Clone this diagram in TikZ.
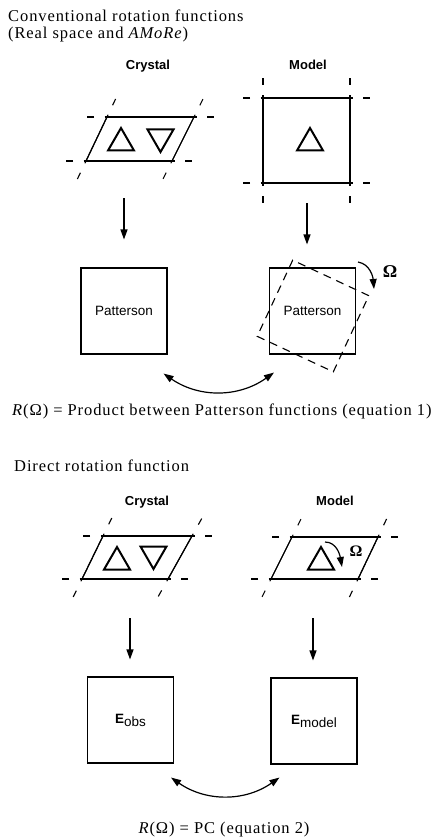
\documentclass[tikz,border=0pt]{standalone}
\usepackage{fontspec}
\setmainfont{Liberation Serif}
\setsansfont{Liberation Sans}
\newfontfamily\spacedfont[LetterSpace=5.5]{Liberation Serif}
\usetikzlibrary{positioning, arrows.meta, calc, shapes.geometric}

\begin{document}
\begin{tikzpicture}[
  x=1pt, y=1pt,
  txt/.style={anchor=base west, inner sep=0pt, font=\spacedfont\fontsize{16.5}{16.5}\selectfont},
  head/.style={anchor=base, inner sep=0pt, font=\sffamily\bfseries\fontsize{13}{13}\selectfont},
  box/.style={rectangle, draw, line width=1.1pt, minimum width=86pt, minimum height=86pt,
              inner sep=0pt, font=\sffamily\fontsize{13.5}{14}\selectfont},
  rotbox/.style={rectangle, draw, line width=1.1pt, dash pattern=on 8pt off 6pt,
                 minimum width=84pt, minimum height=84pt, inner sep=0pt, rotate=-25},
  cell/.style={line width=1.1pt},
  tri/.style={regular polygon, regular polygon sides=3, draw, line width=2pt,
              minimum size=30pt, inner sep=0pt},
  fwd/.style={-{Triangle[length=10pt,width=7pt]}, line width=1.2pt},
  both/.style={{Triangle[length=10pt,width=7pt]}-{Triangle[length=10pt,width=7pt]}, line width=1.2pt},
  omega/.style={inner sep=0pt, font=\bfseries\fontsize{18}{18}\selectfont},
]
\useasboundingbox (0,0) rectangle (442,-837);

% headings
\node[txt] (title1) at (8,-22) {Conventional rotation functions};
\node[txt] (title2) at (8,-39) {(Real space and \textit{AMoRe})};
\node[txt] (eq1) at (12,-415) {\textit{R}(Ω) = Product between Patterson functions (equation 1)};
\node[txt] (title3) at (14,-471) {Direct rotation function};
\node[txt, anchor=base] (eq2) at (224,-833) {\textit{R}(Ω) = PC (equation 2)};

\node[head] (crysA) at (148,-70) {Crystal};
\node[head] (modA) at (308,-70) {Model};
\node[head] (crysB) at (147,-505) {Crystal};
\node[head] (modB) at (335,-505) {Model};

% unit cells, corners a b c d counter-clockwise from lower left
\coordinate (tc-a) at (86,-161);  \coordinate (tc-b) at (172,-161);
\coordinate (tc-c) at (194,-117); \coordinate (tc-d) at (107,-117);
\coordinate (tm-a) at (263,-183); \coordinate (tm-b) at (350,-183);
\coordinate (tm-c) at (350,-98);  \coordinate (tm-d) at (263,-98);
\coordinate (bc-a) at (82,-579);  \coordinate (bc-b) at (168,-579);
\coordinate (bc-c) at (192,-536); \coordinate (bc-d) at (103,-536);
\coordinate (bm-a) at (271,-579); \coordinate (bm-b) at (358,-579);
\coordinate (bm-c) at (378,-537); \coordinate (bm-d) at (292,-537);

\foreach \u in {tc, tm, bc, bm}
  \foreach \p/\q in {a/b, b/a, b/c, c/b, c/d, d/c, d/a, a/d} {
    \draw[cell] ($(\u-\p)!-2.5pt!(\u-\q)$) -- (\u-\q);
    \draw[cell] ($(\u-\p)!-13pt!(\u-\q)$) -- ($(\u-\p)!-20pt!(\u-\q)$);
  }

% molecules
\node[tri] (tc-up) at (121,-143) {};
\node[tri, shape border rotate=180] (tc-dn) at (160.5,-137) {};
\node[tri] (tm-up) at (310,-143) {};
\node[tri] (bc-up) at (117,-562) {};
\node[tri, shape border rotate=180] (bc-dn) at (153.5,-554) {};
\node[tri] (bm-up) at (321,-562) {};

% Patterson maps
\node[box] (patC) at (124,-311) {Patterson};
\node[box] (patM) at (312.5,-311) {Patterson};
\node[rotbox] (patR) at (313,-316) {};

\coordinate (tc-out) at (124,-198);
\coordinate (tm-out) at (307,-203);
\draw[fwd, shorten >=28pt] (tc-out) -- (tc-out |- patC.north);
\draw[fwd, shorten >=23pt] (tm-out) -- (tm-out |- patM.north);

\coordinate (spinA) at (358,-262);
\coordinate (spinA-end) at (374,-289);
\draw[fwd] (spinA) to[out=-10,in=95] (spinA-end);
\node[omega] (omA) at (390,-272) {Ω};

\draw[both] ($(patC.south east)+(-4,-19)$) to[bend right=35] ($(patM.south west)+(5,-18)$);

% structure factors
\node[box] (eobs) at (130.5,-720) {{\bfseries E}\raisebox{-3pt}{obs}};
\node[box] (emod) at (314,-721) {{\bfseries E}\raisebox{-3pt}{model}};

\coordinate (bc-out) at (130,-618);
\coordinate (bm-out) at (313,-618);
\draw[fwd, shorten >=17pt] (bc-out) -- (bc-out |- eobs.north);
\draw[fwd, shorten >=17pt] (bm-out) -- (bm-out |- emod.north);

\coordinate (spinB) at (325,-542);
\coordinate (spinB-end) at (342,-567);
\draw[fwd] (spinB) to[out=0,in=100] (spinB-end);
\node[omega, font=\bfseries\fontsize{16}{16}\selectfont] (omB) at (356,-551) {Ω};

\draw[both] ($(eobs.south east)+(-3,-14)$) to[bend right=35] ($(emod.south west)+(9,-13)$);
\end{tikzpicture}
\end{document}
